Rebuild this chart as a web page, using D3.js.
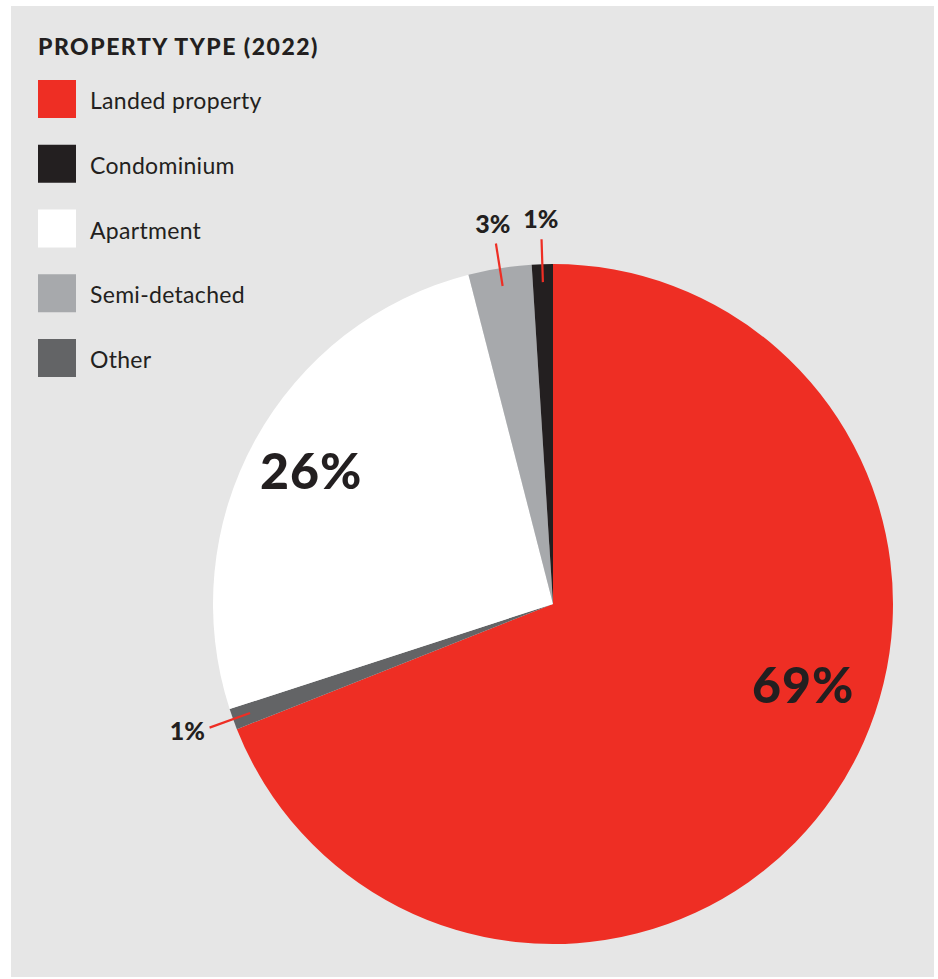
<!DOCTYPE html>
<html>
<head>
<meta charset="utf-8">
<script src="https://cdn.jsdelivr.net/npm/d3@7"></script>
<style>
  html, body { margin: 0; padding: 0; background: #ffffff; }
  svg { display: block; }
</style>
</head>
<body>
<svg id="chart" width="938" height="979"></svg>
<script>
// Property type shares, 2022 (percent), in clockwise order from 12 o'clock
const sliceNames  = ["Landed property", "Other", "Apartment", "Semi-detached", "Condominium"];
const sliceValues = [69, 1, 26, 3, 1];

// Legend order
const legendNames = ["Landed property", "Condominium", "Apartment", "Semi-detached", "Other"];

const colours = {
  "Landed property": "#ee2e24",
  "Condominium": "#231f20",
  "Apartment": "#ffffff",
  "Semi-detached": "#a7a9ac",
  "Other": "#636466"
};

// Label style per slice: big labels sit inside, small ones outside with a leader
const labelStyle = {
  "Landed property": { kind: "inside", r: 263, angleDeg: 108 },
  "Apartment":       { kind: "inside", r: 276 },
  "Semi-detached":   { kind: "outside", anchor: "middle" },
  "Condominium":     { kind: "outside", anchor: "middle" },
  "Other":           { kind: "outside", anchor: "end" }
};

const W = 938, H = 979;
const svg = d3.select("#chart");
const FONT = "Lato, 'Open Sans', sans-serif";

// Panel
svg.append("rect")
  .attr("x", 11).attr("y", 6)
  .attr("width", 923).attr("height", 971)
  .attr("fill", "#e6e6e6");

// Title
svg.append("text")
  .attr("x", 38).attr("y", 55)
  .attr("font-family", FONT)
  .attr("font-weight", 900)
  .attr("font-size", 23)
  .attr("letter-spacing", 1.5)
  .attr("fill", "#231f20")
  .text("PROPERTY TYPE (2022)");

// Legend
const legend = svg.append("g").attr("transform", "translate(38,80)");
const legendStep = 64.75;
const legendItems = legend.selectAll("g.item")
  .data(legendNames)
  .join("g")
  .attr("class", "item")
  .attr("transform", (d, i) => `translate(0,${i * legendStep})`);
legendItems.append("rect")
  .attr("width", 38).attr("height", 38)
  .attr("fill", d => colours[d]);
legendItems.append("text")
  .attr("x", 52).attr("y", 29)
  .attr("font-family", FONT)
  .attr("font-size", 23)
  .attr("letter-spacing", 0.3)
  .attr("fill", "#231f20")
  .text(d => d);

// Pie
const cx = 553, cy = 604, radius = 340;
const pie = d3.pie().sort(null).value(d => d.value);
const arcs = pie(sliceNames.map((n, i) => ({ name: n, value: sliceValues[i] })));
const arc = d3.arc().innerRadius(0).outerRadius(radius);

const g = svg.append("g").attr("transform", `translate(${cx},${cy})`);
g.selectAll("path.slice")
  .data(arcs)
  .join("path")
  .attr("class", "slice")
  .attr("d", arc)
  .attr("fill", d => colours[d.data.name]);

const polar = (angle, r) => [Math.sin(angle) * r, -Math.cos(angle) * r];
const midAngle = d => (d.startAngle + d.endAngle) / 2;

arcs.forEach(d => {
  const s = labelStyle[d.data.name];
  const txt = d.data.value + "%";
  if (s.kind === "inside") {
    const a = s.angleDeg !== undefined ? s.angleDeg * Math.PI / 180 : midAngle(d);
    const [x, y] = polar(a, s.r);
    g.append("text")
      .attr("x", x).attr("y", y)
      .attr("text-anchor", "middle")
      .attr("dy", "0.35em")
      .attr("font-family", FONT)
      .attr("font-weight", 900)
      .attr("font-size", 50)
      .attr("letter-spacing", 1)
      .attr("fill", "#231f20")
      .text(txt);
  } else {
    const a = midAngle(d);
    const [x1, y1] = polar(a, 322);
    const [x2, y2] = polar(a, 365);
    g.append("line")
      .attr("x1", x1).attr("y1", y1)
      .attr("x2", x2).attr("y2", y2)
      .attr("stroke", "#ee2e24")
      .attr("stroke-width", 2.2);
    let lx, ly;
    if (s.anchor === "end") {
      [lx, ly] = polar(a, 370);
      ly += 2;
    } else {
      [lx, ly] = polar(a, 385);
    }
    g.append("text")
      .attr("x", lx).attr("y", ly)
      .attr("text-anchor", s.anchor)
      .attr("dy", "0.35em")
      .attr("font-family", FONT)
      .attr("font-weight", 900)
      .attr("font-size", 25)
      .attr("fill", "#231f20")
      .text(txt);
  }
});
</script>
</body>
</html>
